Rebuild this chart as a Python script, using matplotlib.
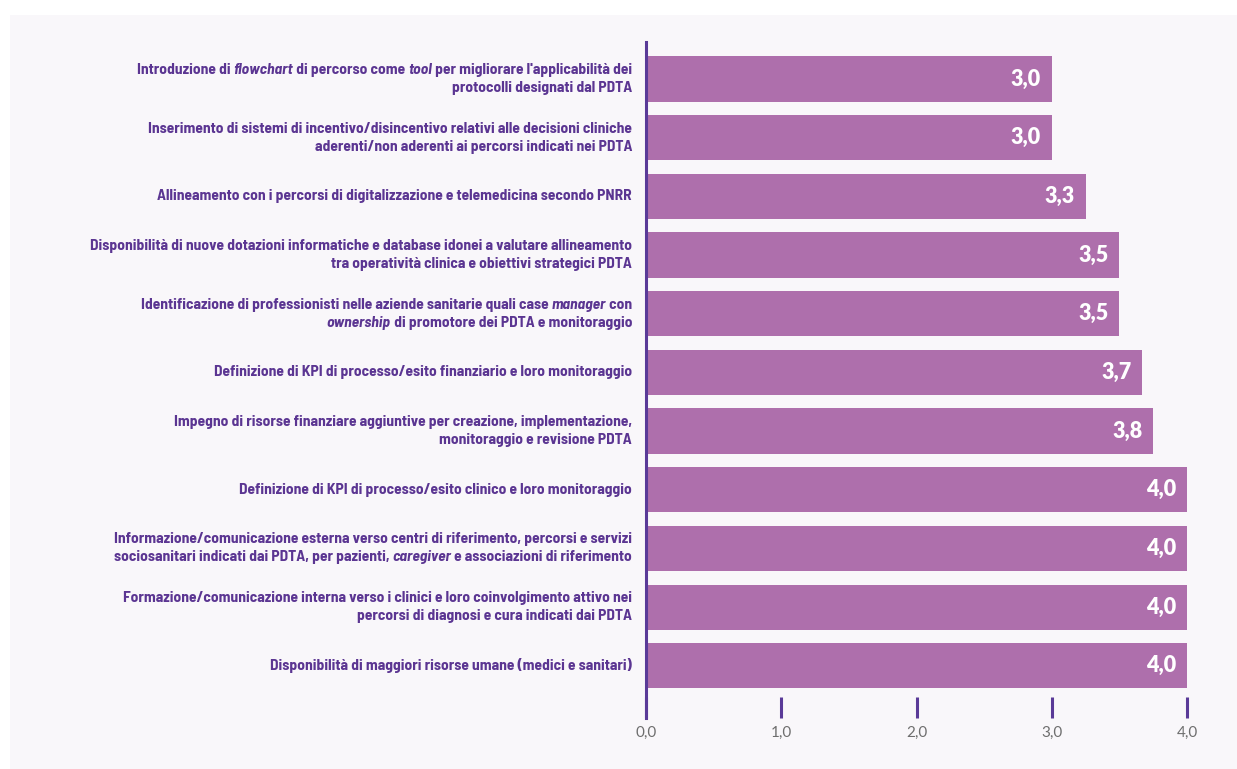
import matplotlib
matplotlib.use("Agg")
import matplotlib.pyplot as plt
from matplotlib.patches import Rectangle
from matplotlib.offsetbox import TextArea, HPacker, VPacker, AnnotationBbox

# --- data (top to bottom); words between * are italic ---
categories = [
    "Introduzione di *flowchart* di percorso come *tool* per migliorare l'applicabilità dei\nprotocolli designati dal PDTA",
    "Inserimento di sistemi di incentivo/disincentivo relativi alle decisioni cliniche\naderenti/non aderenti ai percorsi indicati nei PDTA",
    "Allineamento con i percorsi di digitalizzazione e telemedicina secondo PNRR",
    "Disponibilità di nuove dotazioni informatiche e database idonei a valutare allineamento\ntra operatività clinica e obiettivi strategici PDTA",
    "Identificazione di professionisti nelle aziende sanitarie quali case *manager* con\n*ownership* di promotore dei PDTA e monitoraggio",
    "Definizione di KPI di processo/esito finanziario e loro monitoraggio",
    "Impegno di risorse finanziare aggiuntive per creazione, implementazione,\nmonitoraggio e revisione PDTA",
    "Definizione di KPI di processo/esito clinico e loro monitoraggio",
    "Informazione/comunicazione esterna verso centri di riferimento, percorsi e servizi\nsociosanitari indicati dai PDTA, per pazienti, *caregiver* e associazioni di riferimento",
    "Formazione/comunicazione interna verso i clinici e loro coinvolgimento attivo nei\npercorsi di diagnosi e cura indicati dai PDTA",
    "Disponibilità di maggiori risorse umane (medici e sanitari)",
]
values = [3.0, 3.0, 3.25, 3.5, 3.5, 3.67, 3.75, 4.0, 4.0, 4.0, 4.0]
value_labels = ["3,0", "3,0", "3,3", "3,5", "3,5", "3,7", "3,8", "4,0", "4,0", "4,0", "4,0"]
xticks = [0, 1, 2, 3, 4]
xtick_labels = ["0,0", "1,0", "2,0", "3,0", "4,0"]

BAR = "#AE6FAC"
PURPLE = "#5B3592"
SPINE = "#5A3A98"
PANEL = "#F9F7FA"
LABEL_FONT = ["Barlow Semi Condensed", "DejaVu Sans"]
NUM_FONT = ["Lato", "DejaVu Sans"]


def label_box(text, size=11.2):
    # one TextArea per run of upright / italic text, packed line by line
    lines = []
    for line in text.split("\n"):
        parts = []
        for i, seg in enumerate(line.split("*")):
            if not seg:
                continue
            parts.append(TextArea(seg, textprops=dict(
                fontsize=size, fontweight="bold", family=LABEL_FONT,
                color=PURPLE, style="italic" if i % 2 else "normal")))
        lines.append(HPacker(children=parts, align="baseline", pad=0, sep=0))
    return VPacker(children=lines, align="right", pad=0, sep=3)


W, H = 1237, 769
fig = plt.figure(figsize=(W / 100, H / 100), dpi=100)
fig.patch.set_facecolor("white")
fig.patches.append(Rectangle((10 / W, 0), 1 - 10 / W, 1 - 15 / H,
                             transform=fig.transFigure, facecolor=PANEL,
                             edgecolor="none", zorder=-10))

ax = fig.add_axes([646 / W, (H - 718) / H, (1187 - 646) / W, (718 - 42) / H])
ax.patch.set_alpha(0)

y = list(range(len(categories)))
ax.barh(y, values, height=0.77, color=BAR, zorder=2)
for yi, v, lab in zip(y, values, value_labels):
    ax.text(v - 0.08, yi, lab, ha="right", va="center", color="white",
            fontsize=15.5, fontweight="heavy", family=NUM_FONT, zorder=3)

for yi, cat in zip(y, categories):
    ab = AnnotationBbox(label_box(cat), (0, yi), xycoords=ax.get_yaxis_transform(),
                        xybox=(-10, 0), boxcoords="offset points",
                        box_alignment=(1, 0.5), frameon=False, pad=0,
                        annotation_clip=False)
    ax.add_artist(ab)

ax.set_xlim(0, 4)
ax.set_ylim(10.89, -0.63)
ax.set_yticks([])

ax.set_xticks(xticks)
ax.set_xticklabels(xtick_labels, fontsize=11, color="#6E6E6E", family=NUM_FONT)
ax.tick_params(axis="x", direction="in", length=15, width=2.2, color=SPINE, pad=6)

for s in ["top", "right", "bottom"]:
    ax.spines[s].set_visible(False)
ax.spines["left"].set_color(SPINE)
ax.spines["left"].set_linewidth(2.2)

fig.savefig("out.png", dpi=100, facecolor="white")
